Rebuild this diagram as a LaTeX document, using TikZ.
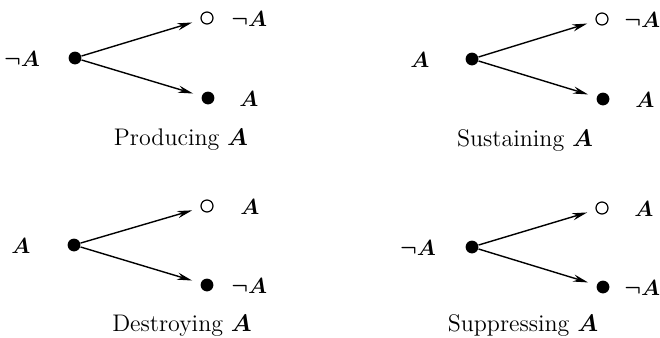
\documentclass[tikz,border=0pt]{standalone}
\usepackage{amsmath}
\usetikzlibrary{arrows.meta}
\tikzset{
  fdot/.style={circle,fill=black,inner sep=0pt,minimum size=6.4pt},
  odot/.style={circle,draw=black,line width=0.6pt,fill=white,inner sep=0pt,minimum size=6pt},
  lab/.style={inner sep=0pt,font=\fontsize{11}{13}\selectfont\boldmath},
  captext/.style={inner sep=0pt,font=\fontsize{12}{14}\selectfont},
  arr/.style={line width=0.7pt,-{Stealth[length=7.5pt,width=3.6pt]},shorten >=4.4pt}
}
\begin{document}
\begin{tikzpicture}[x=0.5pt,y=-0.5pt]
\useasboundingbox (0,0) rectangle (660,338);
% Producing
\node[lab] (l1) at (22,59) {$\neg A$};
\node[fdot] (r1) at (75,58) {};
\node[odot] (t1) at (207,18) {};
\node[fdot] (b1) at (208,98) {};
\node[lab,anchor=west] (tl1) at (231,19) {$\neg A$};
\node[lab,anchor=west] (bl1) at (239,99) {$A$};
\node[captext] (c1) at (181,140) {Producing $\boldsymbol{A}$};
\draw[arr] (r1) -- (t1);
\draw[arr] (r1) -- (b1);
% Sustaining
\node[lab] (l2) at (420,60) {$A$};
\node[fdot] (r2) at (472,59) {};
\node[odot] (t2) at (602,19) {};
\node[fdot] (b2) at (603,99) {};
\node[lab,anchor=west] (tl2) at (624,20) {$\neg A$};
\node[lab,anchor=west] (bl2) at (635,100) {$A$};
\node[captext] (c2) at (525,141) {Sustaining $\boldsymbol{A}$};
\draw[arr] (r2) -- (t2);
\draw[arr] (r2) -- (b2);
% Destroying
\node[lab] (l3) at (21,246) {$A$};
\node[fdot] (r3) at (74,245) {};
\node[odot] (t3) at (207,206) {};
\node[fdot] (b3) at (207,285) {};
\node[lab,anchor=west] (tl3) at (240,207) {$A$};
\node[lab,anchor=west] (bl3) at (231,286) {$\neg A$};
\node[captext] (c3) at (182,326) {Destroying $\boldsymbol{A}$};
\draw[arr] (r3) -- (t3);
\draw[arr] (r3) -- (b3);
% Suppressing
\node[lab] (l4) at (418,248) {$\neg A$};
\node[fdot] (r4) at (472,247) {};
\node[odot] (t4) at (602,208) {};
\node[fdot] (b4) at (603,287) {};
\node[lab,anchor=west] (tl4) at (634,209) {$A$};
\node[lab,anchor=west] (bl4) at (624,288) {$\neg A$};
\node[captext] (c4) at (523,326) {Suppressing $\boldsymbol{A}$};
\draw[arr] (r4) -- (t4);
\draw[arr] (r4) -- (b4);
\end{tikzpicture}
\end{document}
